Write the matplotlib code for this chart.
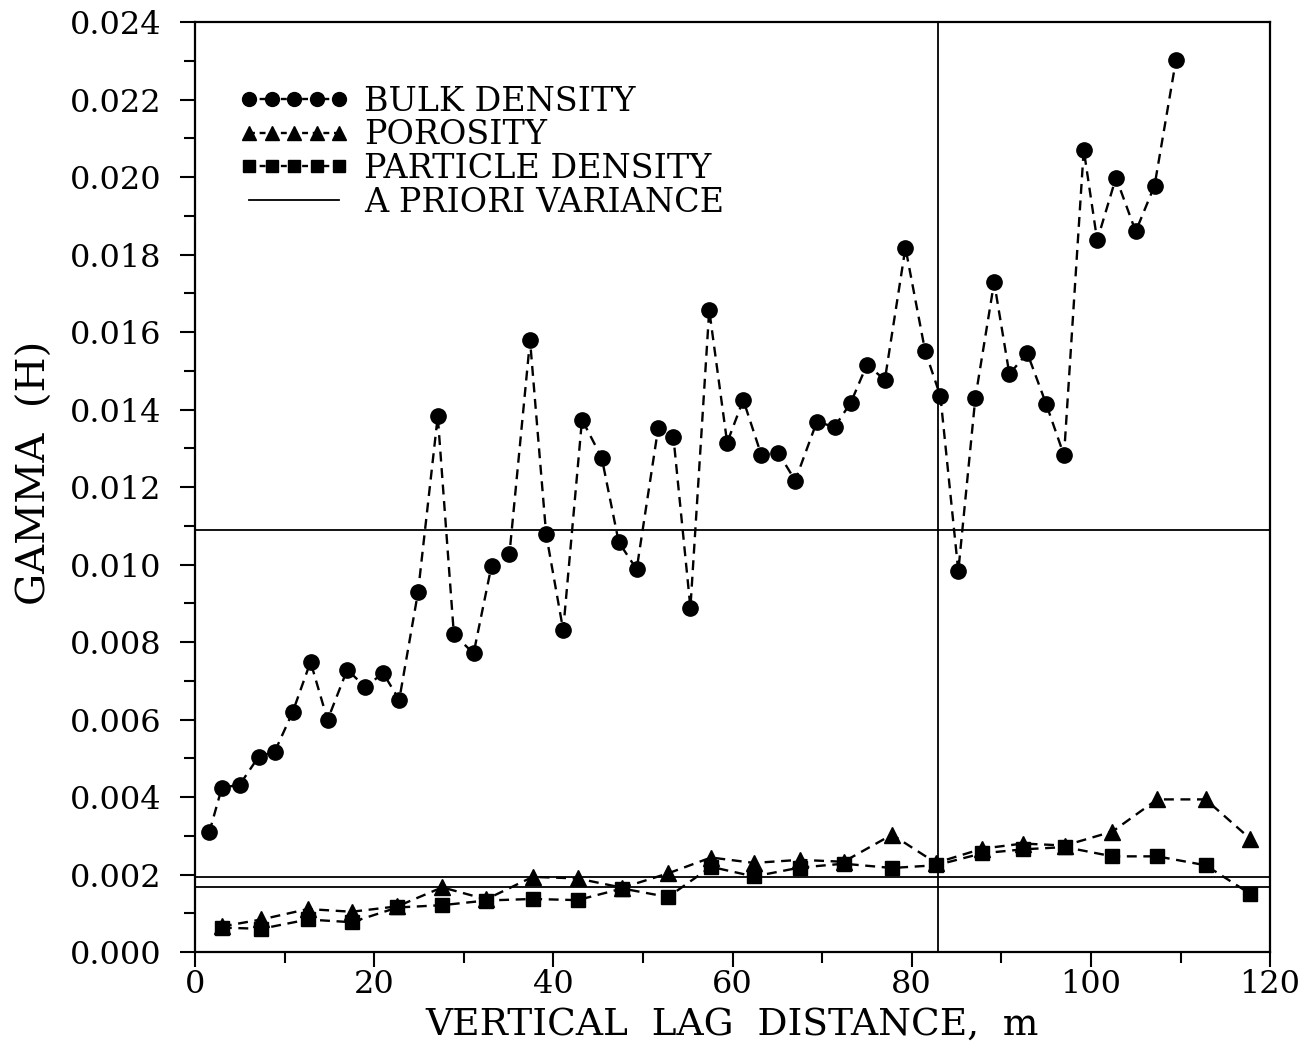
import matplotlib
matplotlib.use("Agg")
import matplotlib.pyplot as plt
from matplotlib.lines import Line2D
from matplotlib.ticker import MultipleLocator, FormatStrFormatter

# ---------------- data ----------------
bulk_lag = [1.6, 3.0, 5.0, 7.1, 8.9,
            10.9, 12.9, 14.8, 17.0, 19.0, 21.0, 22.8, 24.9, 27.1, 28.9,
            31.1, 33.1, 35.1, 37.4, 39.2, 41.1, 43.2, 45.4, 47.3, 49.3,
            51.7, 53.4, 55.3, 57.4, 59.4,
            61.2, 63.2, 65.1, 67.0, 69.4, 71.4, 73.2, 75.0, 77.0, 79.3,
            81.5, 83.2, 85.2, 87.1, 89.2, 90.9, 92.9, 95.0, 97.0, 99.2,
            100.7, 102.8, 105.0, 107.1, 109.5]
bulk_gamma = [0.00309, 0.00424, 0.00432, 0.00504, 0.00517,
              0.00619, 0.00749, 0.00599, 0.00729, 0.00684, 0.00720, 0.00651,
              0.00929, 0.01383, 0.00820, 0.00771, 0.00997, 0.01027, 0.01579,
              0.01078, 0.00831, 0.01374, 0.01276, 0.01058, 0.00988, 0.01352,
              0.01330, 0.00889, 0.01657, 0.01315,
              0.01425, 0.01284, 0.01289, 0.01217, 0.01368, 0.01356, 0.01418,
              0.01516, 0.01477, 0.01818, 0.01551, 0.01435, 0.00983, 0.01430,
              0.01729, 0.01492, 0.01546, 0.01415, 0.01282, 0.02071, 0.01837,
              0.01999, 0.01860, 0.01978, 0.02303]

lag5 = [3.0, 7.4, 12.6, 17.5, 22.6, 27.6, 32.5, 37.7, 42.7, 47.7, 52.8, 57.6,
        62.4, 67.5, 72.4, 77.8, 82.7, 87.9, 92.4, 97.1, 102.4, 107.4, 112.8, 117.8]
porosity_gamma = [0.00066, 0.00084, 0.00111, 0.00104, 0.00118, 0.00167, 0.00136,
                  0.00194, 0.00190, 0.00166, 0.00203, 0.00244, 0.00230, 0.00238,
                  0.00233, 0.00303, 0.00230, 0.00267, 0.00280, 0.00275, 0.00311,
                  0.00394, 0.00394, 0.00292]
particle_gamma = [0.00063, 0.00060, 0.00084, 0.00077, 0.00115, 0.00121, 0.00133,
                  0.00137, 0.00134, 0.00164, 0.00142, 0.00220, 0.00195, 0.00218,
                  0.00228, 0.00217, 0.00224, 0.00255, 0.00265, 0.00271, 0.00247,
                  0.00247, 0.00224, 0.00150]

a_priori_variance = [0.0109, 0.00194, 0.00168]
vertical_marker_lag = 82.9

series_labels = ["BULK DENSITY", "POROSITY", "PARTICLE DENSITY", "A PRIORI VARIANCE"]
x_label = "VERTICAL  LAG  DISTANCE,  m"
y_label = "GAMMA  (H)"

# ---------------- style ----------------
plt.rcParams['font.family'] = ['DejaVu Serif']
fig = plt.figure(figsize=(13.04, 10.59), dpi=100)
ax = fig.add_axes([0.1495, 0.101, 0.8245, 0.878])

dash = (0, (4.2, 2.8))
ax.plot(bulk_lag, bulk_gamma, color='black', lw=1.7, linestyle=dash,
        marker='o', markersize=11, zorder=3)
ax.plot(lag5, porosity_gamma, color='black', lw=1.7, linestyle=dash,
        marker='^', markersize=11, zorder=3)
ax.plot(lag5, particle_gamma, color='black', lw=1.7, linestyle=dash,
        marker='s', markersize=9.5, zorder=3)

for v in a_priori_variance:
    ax.axhline(v, color='black', lw=1.3, zorder=2)
ax.axvline(vertical_marker_lag, color='black', lw=1.3, zorder=2)

ax.set_xlim(0, 120)
ax.set_ylim(0, 0.024)
ax.xaxis.set_major_locator(MultipleLocator(20))
ax.xaxis.set_minor_locator(MultipleLocator(10))
ax.yaxis.set_major_locator(MultipleLocator(0.002))
ax.yaxis.set_minor_locator(MultipleLocator(0.001))
ax.yaxis.set_major_formatter(FormatStrFormatter('%.3f'))

for s in ax.spines.values():
    s.set_linewidth(1.6)
ax.tick_params(which='both', direction='out', width=1.5, top=False, right=False,
               labelsize=23)
ax.tick_params(which='major', length=11)
ax.tick_params(which='minor', length=8)
ax.tick_params(axis='y', which='major', pad=13)
ax.tick_params(axis='x', which='major', pad=1)

ax.set_xlabel(x_label, fontsize=27, labelpad=5)
ax.set_ylabel(y_label, fontsize=29)
ax.yaxis.set_label_coords(-0.131, 0.515)

handles = [
    Line2D([], [], color='black', lw=1.7, linestyle=(0, (2.5, 2)), marker='o', markersize=10),
    Line2D([], [], color='black', lw=1.7, linestyle=(0, (2.5, 2)), marker='^', markersize=10),
    Line2D([], [], color='black', lw=1.7, linestyle=(0, (2.5, 2)), marker='s', markersize=9),
    Line2D([], [], color='black', lw=1.3),
]
leg = ax.legend(handles, series_labels, loc='upper left', bbox_to_anchor=(0.029, 0.946),
                frameon=False, numpoints=5, fontsize=24, handlelength=3.3,
                handletextpad=0.45, labelspacing=0.05, borderaxespad=0)

fig.savefig('out.png', dpi=100)
